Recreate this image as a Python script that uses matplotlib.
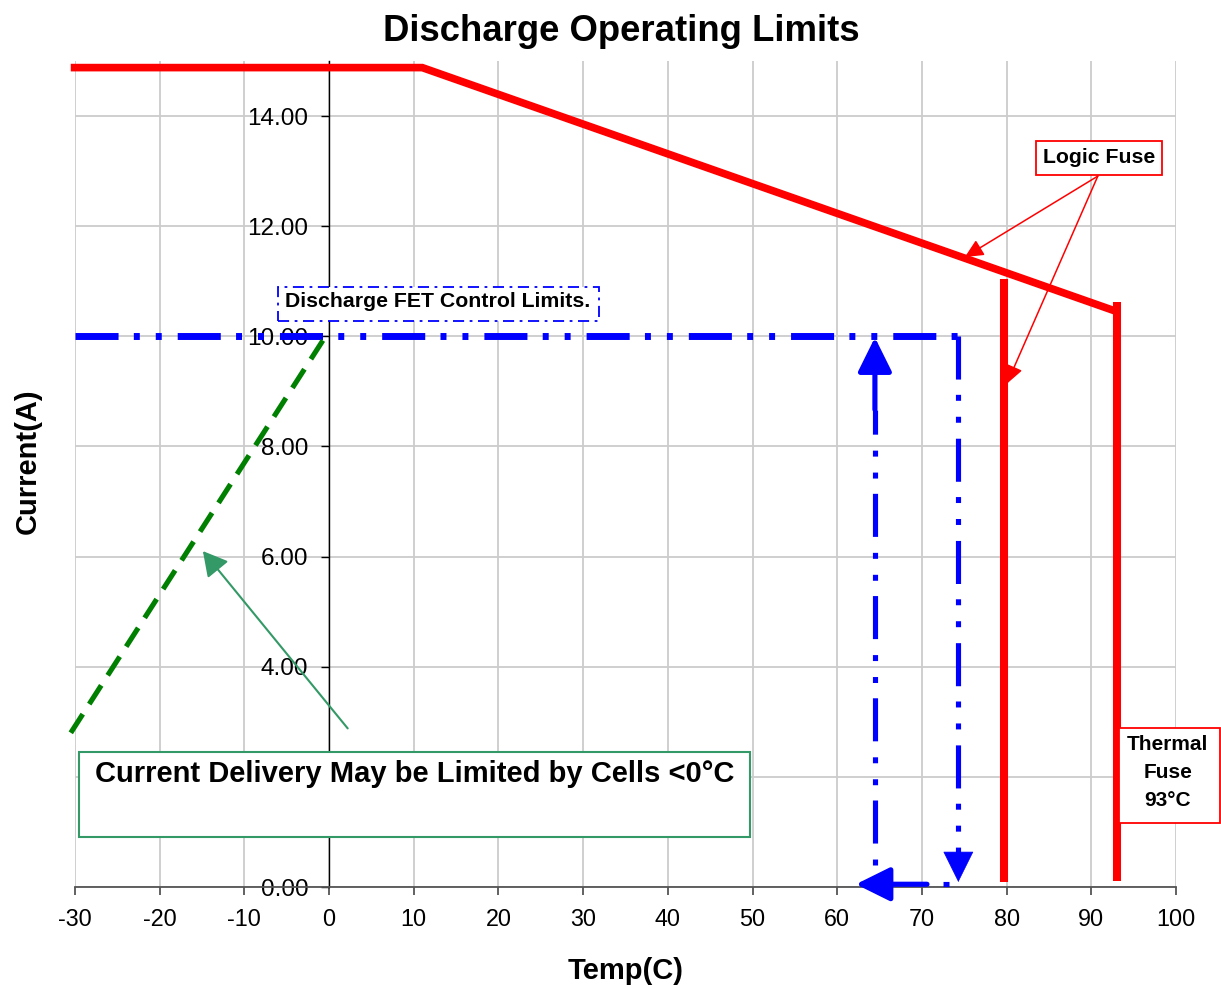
import matplotlib
matplotlib.use("Agg")
import matplotlib.pyplot as plt
from matplotlib.patches import Rectangle

plt.rcParams['font.family'] = ['Liberation Sans', 'DejaVu Sans']
plt.rcParams['lines.scale_dashes'] = False
plt.rcParams['axes.unicode_minus'] = False

# ---- data ----
x_ticks = [-30, -20, -10, 0, 10, 20, 30, 40, 50, 60, 70, 80, 90, 100]
y_ticks = [0, 2, 4, 6, 8, 10, 12, 14]

# red current limit (flat then derated with temperature)
limit_temp = [-30.5, 11, 93]
limit_curr = [14.88, 14.88, 10.45]

# fuse lines
logic_fuse_temp = [79.7, 79.7]
logic_fuse_curr = [0.09, 11.05]
thermal_fuse_temp = [93.0, 93.0]
thermal_fuse_curr = [0.1, 10.63]

# FET control limit
fet_temp = [-30, 74.3]
fet_curr = [10, 10]
fet_off_temp = [74.3, 74.3]
fet_off_curr = [10, 0.62]
fet_on_temp = [64.45, 64.45]
fet_on_curr = [0.4, 8.67]

# cold derating (green)
cold_temp = [-30.5, 0]
cold_curr = [2.8, 10.1]

blue_dash = (31, 11, 4.3, 11.5, 4.3, 11.5)

fig = plt.figure(figsize=(12.21, 9.88), dpi=100)
ax = fig.add_axes([75 / 1221, 101 / 988, 1101 / 1221, 826 / 988])
ax.set_xlim(-30, 100)
ax.set_ylim(0, 15)
ax.set_xticks(x_ticks)
ax.set_yticks(y_ticks)
# the 2.00 label sits behind the note box in the reference
ax.set_yticklabels(["" if v == 2 else f"{v:.2f}" for v in y_ticks])
ax.set_axisbelow(True)
ax.grid(True, color='#cccccc', lw=1.3)

for s in ['top', 'right']:
    ax.spines[s].set_visible(False)
ax.spines['left'].set_position(('data', 0))
ax.spines['left'].set_color('black')
ax.spines['left'].set_linewidth(1.0)
ax.spines['bottom'].set_color('#555555')
ax.spines['bottom'].set_linewidth(1.3)
ax.tick_params(axis='x', direction='out', length=6, width=1.3, color='#555555',
               labelsize=16.8, pad=9)
ax.tick_params(axis='y', direction='out', length=6, width=1.0, color='black',
               labelsize=17.5, pad=9)

# red limits
ax.plot(limit_temp, limit_curr, color='red', lw=5.5, solid_capstyle='butt',
        solid_joinstyle='miter', clip_on=False, zorder=3)
ax.plot(logic_fuse_temp, logic_fuse_curr, color='red', lw=5.8,
        solid_capstyle='butt', zorder=3)
ax.plot(thermal_fuse_temp, thermal_fuse_curr, color='red', lw=5.8,
        solid_capstyle='butt', zorder=3)

# blue FET control lines
ax.plot(fet_temp, fet_curr, color='blue', lw=5, linestyle=(0, blue_dash),
        dash_capstyle='butt', zorder=3)
ax.plot(fet_off_temp, fet_off_curr, color='blue', lw=3.7,
        linestyle=(0, blue_dash), dash_capstyle='butt', zorder=3)
ax.plot(fet_on_temp, fet_on_curr, color='blue', lw=3.7,
        linestyle=(57.8, blue_dash), dash_capstyle='butt', zorder=3)
ax.plot([73.2, 70.6], [0.05, 0.05], color='blue', lw=3.7,
        linestyle=(0, (4.3, 12.6)), dash_capstyle='butt', zorder=3,
        clip_on=False)

head = '-|>,head_length=1.05,head_width=0.52'
ax.annotate('', xy=(64.45, 9.98), xytext=(64.45, 8.67),
            arrowprops=dict(arrowstyle=head, color='blue', lw=3.7,
                            mutation_scale=20, shrinkA=0, shrinkB=0), zorder=3)
ax.annotate('', xy=(74.3, 0.09), xytext=(74.3, 0.64),
            arrowprops=dict(arrowstyle=head, color='blue', lw=0.5,
                            mutation_scale=20, shrinkA=0, shrinkB=0), zorder=3)
ax.annotate('', xy=(62.2, 0.05), xytext=(70.6, 0.05),
            arrowprops=dict(arrowstyle=head, color='blue', lw=3.7,
                            mutation_scale=20, shrinkA=0, shrinkB=0),
            annotation_clip=False, zorder=3)

# green cold line
ax.plot(cold_temp, cold_curr, color='#008000', lw=3.7,
        linestyle=(0, (16, 8.6)), dash_capstyle='butt', clip_on=False,
        zorder=3)

# annotation boxes
green = '#339966'
ax.add_patch(Rectangle((-29.53, 0.907), 79.22, 1.541, facecolor='white',
                       edgecolor=green, lw=1.5, zorder=4, clip_on=False))
ax.text(-27.64, 1.9, 'Current Delivery May be Limited by Cells <0°C',
        fontsize=21, fontweight='bold', ha='left', va='baseline', zorder=5)
ax.annotate('', xy=(-14.9, 6.1), xytext=(2.2, 2.88),
            arrowprops=dict(arrowstyle='-|>,head_length=1.0,head_width=0.55',
                            color=green, lw=1.5, mutation_scale=15,
                            shrinkA=0, shrinkB=0), zorder=4)

ax.add_patch(Rectangle((-6.07, 10.28), 37.97, 0.62, facecolor='white',
                       edgecolor='blue', lw=1.3, linestyle=(0, (8, 4, 2, 4)),
                       zorder=4, clip_on=False))
ax.text(-5.21, 10.54, 'Discharge FET Control Limits.', fontsize=15.3,
        fontweight='bold', ha='left', va='baseline', zorder=5)

ax.add_patch(Rectangle((83.45, 12.93), 14.88, 0.62, facecolor='white',
                       edgecolor='red', lw=1.3, zorder=4, clip_on=False))
ax.text(90.89, 13.15, 'Logic Fuse', fontsize=15.3, fontweight='bold',
        ha='center', va='baseline', zorder=5)
red_head = '-|>,head_length=0.8,head_width=0.38'
for tip in [(75.07, 11.44), (80.03, 9.14)]:
    ax.annotate('', xy=tip, xytext=(90.77, 12.91),
                arrowprops=dict(arrowstyle=red_head, color='red', lw=1.1,
                                mutation_scale=14, shrinkA=0, shrinkB=0),
                zorder=4)

ax.add_patch(Rectangle((93.25, 1.16), 11.9, 1.72, facecolor='white',
                       edgecolor='red', lw=1.3, zorder=4, clip_on=False))
for txt, yb in [('Thermal', 2.488), ('Fuse', 1.986), ('93°C', 1.469)]:
    ax.text(99.04, yb, txt, fontsize=15, fontweight='bold', ha='center',
            va='baseline', zorder=5, clip_on=False)

# titles
fig.text(621.5 / 1221, 1 - 41 / 988, 'Discharge Operating Limits', fontsize=26.3,
         fontweight='bold', ha='center', va='baseline')
fig.text(625.5 / 1221, 1 - 979 / 988, 'Temp(C)', fontsize=21,
         fontweight='bold', ha='center', va='baseline')
fig.text(36 / 1221, 1 - 461 / 988, 'Current(A)', fontsize=21, fontweight='bold',
         ha='center', va='baseline', rotation=90, rotation_mode='anchor')

fig.savefig('out.png', dpi=100)
